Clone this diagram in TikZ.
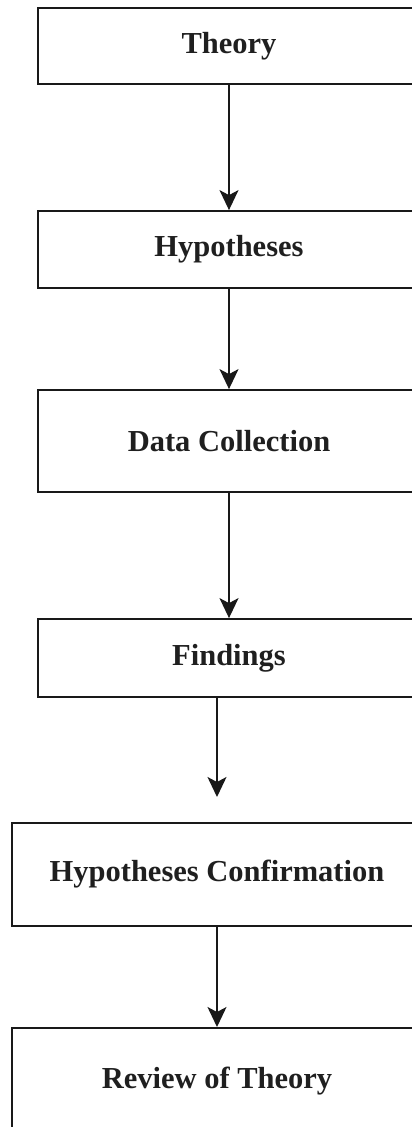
\documentclass[tikz,border=0pt]{standalone}
\usepackage{fontspec}
\setmainfont{Liberation Serif}
\usetikzlibrary{arrows.meta}
\begin{document}
\begin{tikzpicture}[x=1pt,y=-1pt,
  lbl/.style={font=\fontsize{30.5}{36}\selectfont\bfseries, text=black!88},
  boxA/.style={draw=black!90, line width=1.8pt, rectangle, inner sep=0pt,
     minimum width=382pt, lbl},
  boxB/.style={boxA, minimum width=410pt},
  flow/.style={line width=1.7pt, draw=black!90, -{Stealth[length=20pt,width=19pt,inset=5pt]}}]
\useasboundingbox (0,0) rectangle (412,1127);
\clip (0,0) rectangle (412,1127);
\node[boxA, minimum height=76pt] (t) at (229,46) {Theory};
\node[boxA, minimum height=77pt] (h) at (229,249.5) {Hypotheses};
\node[boxA, minimum height=102pt] (d) at (229,441) {Data Collection};
\node[boxA, minimum height=78pt] (f) at (229,658) {Findings};
\node[boxB, minimum height=103pt] (c) at (217,874.5) {Hypotheses Confirmation};
\node[boxB, minimum height=106pt, anchor=north] (r) at (217,1027) {};
\node[lbl] (rt) at (217,1081) {Review of Theory};
\coordinate (fend) at (217,797);
\draw[flow] (t.south) -- (h.north);
\draw[flow] (h.south) -- (d.north);
\draw[flow] (d.south) -- (f.north);
\draw[flow] (f.south -| fend) -- (fend);
\draw[flow] (c.south) -- (r.north);
\end{tikzpicture}
\end{document}
